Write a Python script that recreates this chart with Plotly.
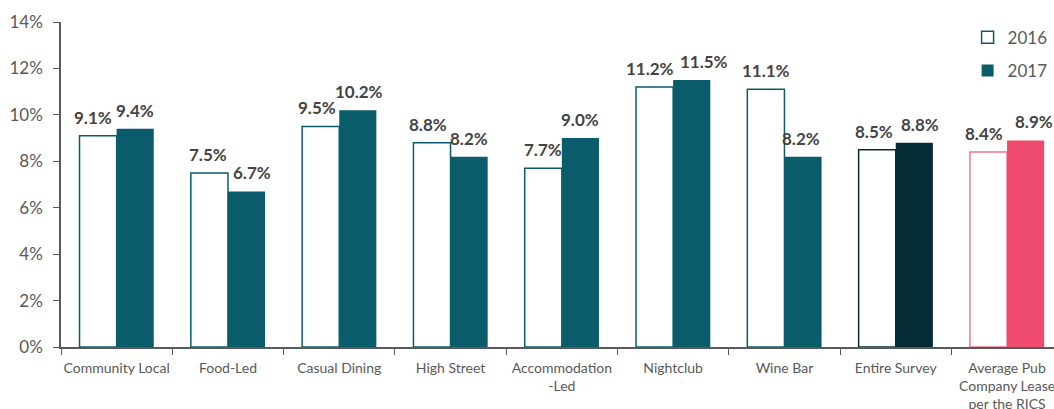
import plotly.graph_objects as go

categories = ["Community Local", "Food-Led", "Casual Dining", "High Street",
              "Accommodation<br>-Led", "Nightclub", "Wine Bar", "Entire Survey",
              "Average Pub<br>Company Lease<br>per the RICS"]
values_2016 = [9.1, 7.5, 9.5, 8.8, 7.7, 11.2, 11.1, 8.5, 8.4]
values_2017 = [9.4, 6.7, 10.2, 8.2, 9.0, 11.5, 8.2, 8.8, 8.9]
y_ticks = [0, 2, 4, 6, 8, 10, 12, 14]
y_tick_labels = [f"{v}%" for v in y_ticks]

# horizontal nudges (px) for the value labels so neighbours don't collide
nudge_2016 = [-5, -1, -4, -4, 0, -5, 0, -3, -4]
nudge_2017 = [0, 5, 1, 0, 0, 12, -2, 6, 8]

TEAL = "#0b5c6b"
DARK = "#042c35"
PINK = "#ef4b6f"
PINK_LINE = "#f07590"
GREY = "#595959"

outline_2016 = [TEAL] * 7 + [DARK, PINK_LINE]
fill_2017 = [TEAL] * 7 + [DARK, PINK]

BARGAP = 0.333
half_bar = (1 - BARGAP) / 4  # offset of each bar centre from the category centre
CATEGORY_PX = 111.3          # width of one category slot

fig = go.Figure()
fig.add_trace(go.Bar(
    x=categories, y=values_2016, name="2016",
    marker=dict(color="white", line=dict(color=outline_2016, width=1.5)),
    legendgroup="a",
))
fig.add_trace(go.Bar(
    x=categories, y=values_2017, name="2017",
    marker=dict(color=fill_2017, line=dict(color=fill_2017, width=0)),
    legendgroup="b",
))

# value labels above each bar
label_font = dict(family="Lato, sans-serif", size=17, color="#444444")
for i in range(len(categories)):
    for offset, v, dx in ((-half_bar, values_2016[i], nudge_2016[i]),
                          (half_bar, values_2017[i], nudge_2017[i])):
        fig.add_annotation(
            x=i + offset, y=v, xref="x", yref="y",
            text=f"<b>{v:.1f}%</b>", showarrow=False,
            xanchor="center", yanchor="bottom", yshift=6, xshift=dx,
            font=label_font,
        )

fig.update_layout(
    width=1054, height=409,
    margin=dict(l=61, r=0, t=22, b=62),
    plot_bgcolor="white", paper_bgcolor="white",
    barmode="group", bargap=BARGAP, bargroupgap=0,
    font=dict(family="Lato, sans-serif", color=GREY),
    legend=dict(x=0.913, y=1.007, xanchor="left", yanchor="top",
                font=dict(size=17, color=GREY),
                tracegroupgap=8, bgcolor="rgba(0,0,0,0)"),
    xaxis=dict(
        range=[-0.5, -0.5 + 993 / CATEGORY_PX], automargin=False,
        showline=True, linecolor=GREY, linewidth=1.5,
        tickson="boundaries", ticks="outside", ticklen=6, tickcolor=GREY,
        tickangle=0, tickfont=dict(size=14, color=GREY), ticklabelstandoff=7,
        showgrid=False,
    ),
    yaxis=dict(
        range=[0, 14], tickmode="array", tickvals=y_ticks, ticktext=y_tick_labels,
        automargin=False,
        showline=True, linecolor=GREY, linewidth=1.5,
        ticks="outside", ticklen=6, tickcolor=GREY,
        tickfont=dict(size=17, color=GREY), ticklabelstandoff=7,
        showgrid=False, zeroline=False,
    ),
)

fig.write_html("out.html")
